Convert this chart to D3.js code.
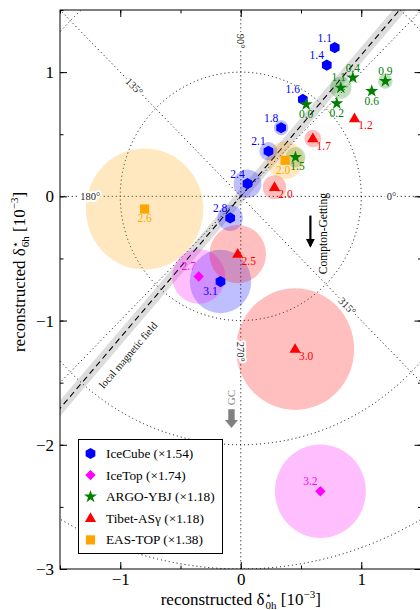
<!DOCTYPE html>
<html>
<head>
<meta charset="utf-8">
<script src="https://cdn.jsdelivr.net/npm/d3@7"></script>
<style>
  html, body { margin: 0; padding: 0; background: #fff; }
  text { font-family: "Liberation Serif", "DejaVu Serif", serif; }
</style>
</head>
<body>
<svg id="chart" width="420" height="610"></svg>
<script>
// experiments, legend scale factors
const experiments = ['IceCube', 'IceTop', 'ARGO-YBJ', 'Tibet-ASγ', 'EAS-TOP'];
const scaleFactors = ['1.54', '1.74', '1.18', '1.18', '1.38'];

// [energy label, δ0h, δ6h, error radius]  (units 1e-3)
const iceCube = [
  ['1.1', 0.78, 1.197, 0], ['1.4', 0.714, 1.056, 0], ['1.6', 0.515, 0.78, 0.02],
  ['1.8', 0.335, 0.552, 0.06], ['2.1', 0.23, 0.363, 0.075], ['2.4', 0.056, 0.102, 0.115],
  ['2.8', -0.088, -0.174, 0.105], ['3.1', -0.168, -0.686, 0.255]
];
const iceTop = [
  ['2.7', -0.349, -0.645, 0.22], ['3.2', 0.661, -2.374, 0.377]
];
const argoYbj = [
  ['0.0', 0.543, 0.74, 0], ['0.2', 0.797, 0.748, 0], ['0.4', 0.93, 0.955, 0],
  ['0.6', 1.087, 0.847, 0.03], ['0.9', 1.2, 0.927, 0.06], ['1.1', 0.83, 0.874, 0.088],
  ['1.5', 0.454, 0.315, 0.083]
];
const tibetAs = [
  ['1.2', 0.944, 0.627, 0], ['1.7', 0.598, 0.465, 0.07], ['2.0', 0.28, 0.073, 0.097],
  ['2.5', -0.025, -0.465, 0.235], ['3.0', 0.451, -1.23, 0.49]
];
const easTop = [
  ['2.0', 0.368, 0.29, 0.152], ['2.6', -0.798, -0.102, 0.487]
];

const gridRadii = [1, 2, 3];
const radialAngles = [0, 45, 90, 135, 180, 225, 270, 315];
const labelAngles = [0, 90, 135, 180, 270, 315];
const magFieldAngle = 48.7;   // degrees
const xTicks = [-1, 0, 1];
const yTicks = [1, 0, -1, -2, -3];

// styles
const colors = ['#0000ff', '#ff00ff', '#008000', '#ff0000', '#ffa500'];
const shapes = ['hexagon', 'diamond', 'star', 'triangle', 'square'];
// label offsets in px relative to marker
const labelOffsets = [[-10, -10], [-10, -10], [0, 10], [11, 7], [0, 9]];
const labelOverrides = {
  '0-3.1': [-10, 9], '2-0.4': [0, -10], '2-0.9': [0, -10], '2-1.1': [-2, -11],
  '2-1.5': [2, 9], '4-2.0': [-2, 10]
};

const svg = d3.select('#chart');
const pLeft = 60, pTop = 10, pRight = 421.5, pBottom = 569;
const x = d3.scaleLinear().domain([-1.5, 1.5]).range([pLeft, pRight]);
const y = d3.scaleLinear().domain([-3, 1.5]).range([pBottom, pTop]);

const defs = svg.append('defs');
defs.append('clipPath').attr('id', 'clip')
  .append('rect')
  .attr('x', pLeft).attr('y', pTop).attr('width', pRight - pLeft).attr('height', pBottom - pTop);
defs.append('marker')
  .attr('id', 'head').attr('viewBox', '0 0 10 10').attr('refX', 8).attr('refY', 5)
  .attr('markerWidth', 4).attr('markerHeight', 5).attr('orient', 'auto')
  .append('path').attr('d', 'M0,0L10,5L0,10Z').attr('fill', '#000');

const plot = svg.append('g').attr('clip-path', 'url(#clip)');

// magnetic field band + dashed line
const a = magFieldAngle * Math.PI / 180;
const ux = Math.cos(a), uy = Math.sin(a);
const half = 0.042;
const L = 5;
const band = [
  [-L * ux - half * uy, -L * uy + half * ux], [L * ux - half * uy, L * uy + half * ux],
  [L * ux + half * uy, L * uy - half * ux], [-L * ux + half * uy, -L * uy - half * ux]
];
plot.append('path')
  .attr('d', 'M' + band.map(p => x(p[0]) + ',' + y(p[1])).join('L') + 'Z')
  .attr('fill', '#dcdcdc');
plot.append('line')
  .attr('x1', x(-L * ux)).attr('y1', y(-L * uy))
  .attr('x2', x(L * ux)).attr('y2', y(L * uy))
  .attr('stroke', '#000').attr('stroke-width', 1.1).attr('stroke-dasharray', '6,4');

// polar grid
gridRadii.forEach(r => {
  plot.append('ellipse')
    .attr('cx', x(0)).attr('cy', y(0))
    .attr('rx', x(r) - x(0)).attr('ry', y(0) - y(r))
    .attr('fill', 'none').attr('stroke', '#000').attr('stroke-width', 1)
    .attr('stroke-dasharray', '1,3');
});
radialAngles.forEach(deg => {
  const t = deg * Math.PI / 180;
  plot.append('line')
    .attr('x1', x(0)).attr('y1', y(0))
    .attr('x2', x(6 * Math.cos(t))).attr('y2', y(6 * Math.sin(t)))
    .attr('stroke', '#000').attr('stroke-width', 1).attr('stroke-dasharray', '1,3');
});

// error circles
const sets = [iceCube, iceTop, argoYbj, tibetAs, easTop];
sets.forEach((set, i) => {
  plot.selectAll(null).data(set.filter(d => d[3] > 0)).enter()
    .append('ellipse')
    .attr('cx', d => x(d[1])).attr('cy', d => y(d[2]))
    .attr('rx', d => x(d[3]) - x(0)).attr('ry', d => y(0) - y(d[3]))
    .attr('fill', colors[i]).attr('fill-opacity', 0.25);
});

// angle labels
labelAngles.forEach(deg => {
  const t = deg * Math.PI / 180;
  let rot = -deg;
  while (rot <= -90) rot += 180;
  while (rot > 90) rot -= 180;
  const px = x(1.25 * Math.cos(t)), py = y(1.25 * Math.sin(t));
  plot.append('text')
    .attr('transform', `translate(${px},${py}) rotate(${rot})`)
    .attr('text-anchor', 'middle').attr('dominant-baseline', 'central')
    .attr('font-size', 10.5)
    .attr('stroke', '#fff').attr('stroke-width', 4).attr('paint-order', 'stroke')
    .attr('fill', '#222')
    .text(deg + '°');
});

// magnetic field text
const rotField = Math.atan2(-(y(0) - y(uy)), x(ux) - x(0)) * 180 / Math.PI;
plot.append('text')
  .attr('transform', `translate(${x(-0.935)},${y(-1.28)}) rotate(${rotField})`)
  .attr('text-anchor', 'middle').attr('dominant-baseline', 'central')
  .attr('font-size', 10.5).attr('fill', '#111')
  .text('local magnetic field');

function symbolPath(shape) {
  if (shape === 'hexagon') {
    const r = 5.6;
    return d3.range(6).map(k => {
      const t = Math.PI / 2 + k * Math.PI / 3;
      return (k ? 'L' : 'M') + (r * Math.cos(t)).toFixed(2) + ',' + (r * Math.sin(t)).toFixed(2);
    }).join('') + 'Z';
  }
  if (shape === 'diamond') return 'M0,-5.2L5.2,0L0,5.2L-5.2,0Z';
  if (shape === 'star') return d3.symbol(d3.symbolStar, 52)();
  if (shape === 'triangle') return 'M0,-6L5.6,3.7L-5.6,3.7Z';
  return 'M-4.6,-4.6H4.6V4.6H-4.6Z';
}

// markers and labels
sets.forEach((set, i) => {
  const g = plot.append('g');
  g.selectAll(null).data(set).enter()
    .append('path')
    .attr('d', symbolPath(shapes[i]))
    .attr('transform', d => `translate(${x(d[1])},${y(d[2])})`)
    .attr('fill', colors[i]);
  g.selectAll(null).data(set).enter()
    .append('text')
    .attr('x', d => x(d[1]) + (labelOverrides[i + '-' + d[0]] || labelOffsets[i])[0])
    .attr('y', d => y(d[2]) + (labelOverrides[i + '-' + d[0]] || labelOffsets[i])[1])
    .attr('text-anchor', 'middle').attr('dominant-baseline', 'central')
    .attr('font-size', 11.5).attr('fill', colors[i])
    .text(d => d[0]);
});

// Compton-Getting arrow
plot.append('line')
  .attr('x1', x(0.578)).attr('y1', y(-0.155))
  .attr('x2', x(0.578)).attr('y2', y(-0.4))
  .attr('stroke', '#000').attr('stroke-width', 2.2).attr('marker-end', 'url(#head)');
plot.append('text')
  .attr('transform', `translate(${x(0.68)},${y(-0.3)}) rotate(-90)`)
  .attr('text-anchor', 'middle').attr('dominant-baseline', 'central')
  .attr('font-size', 11.5).attr('fill', '#000')
  .text('Compton-Getting');

// GC arrow
const gx = x(-0.077), gy0 = y(-1.715), gy1 = y(-1.865);
plot.append('path')
  .attr('d', `M${gx - 3.2},${gy0}H${gx + 3.2}V${gy1 - 8}H${gx + 6.5}L${gx},${gy1}L${gx - 6.5},${gy1 - 8}H${gx - 3.2}Z`)
  .attr('fill', '#808080');
plot.append('text')
  .attr('transform', `translate(${gx},${y(-1.62)}) rotate(-90)`)
  .attr('text-anchor', 'middle').attr('dominant-baseline', 'central')
  .attr('font-size', 11).attr('fill', '#808080')
  .text('GC');

// axes (ticks inward on all sides)
function styleAxis(g) {
  g.select('.domain').remove();
  g.selectAll('text').attr('font-size', 17).attr('fill', '#000')
    .style('font-family', '"Liberation Serif", "DejaVu Serif", serif');
  g.selectAll('line').attr('stroke', '#000');
}
const xMinor = d3.range(-1.5, 1.51, 0.5);
const yMinor = d3.range(-3, 1.51, 0.5);
const fmt = d3.format('d');

svg.append('g').attr('transform', `translate(0,${pBottom})`)
  .call(d3.axisBottom(x).tickValues(xTicks).tickSize(-7).tickPadding(4).tickFormat(fmt)).call(styleAxis);
svg.append('g').attr('transform', `translate(0,${pBottom})`)
  .call(d3.axisBottom(x).tickValues(xMinor).tickSize(-3.5).tickFormat('')).call(styleAxis);
svg.append('g').attr('transform', `translate(0,${pTop})`)
  .call(d3.axisTop(x).tickValues(xTicks).tickSize(-7).tickFormat('')).call(styleAxis);
svg.append('g').attr('transform', `translate(0,${pTop})`)
  .call(d3.axisTop(x).tickValues(xMinor).tickSize(-3.5).tickFormat('')).call(styleAxis);
svg.append('g').attr('transform', `translate(${pLeft},0)`)
  .call(d3.axisLeft(y).tickValues(yTicks).tickSize(-7).tickPadding(6).tickFormat(fmt)).call(styleAxis);
svg.append('g').attr('transform', `translate(${pLeft},0)`)
  .call(d3.axisLeft(y).tickValues(yMinor).tickSize(-3.5).tickFormat('')).call(styleAxis);
svg.append('g').attr('transform', `translate(${pRight},0)`)
  .call(d3.axisRight(y).tickValues(yTicks).tickSize(-7).tickFormat('')).call(styleAxis);
svg.append('g').attr('transform', `translate(${pRight},0)`)
  .call(d3.axisRight(y).tickValues(yMinor).tickSize(-3.5).tickFormat('')).call(styleAxis);

svg.append('rect')
  .attr('x', pLeft).attr('y', pTop).attr('width', pRight - pLeft).attr('height', pBottom - pTop)
  .attr('fill', 'none').attr('stroke', '#000').attr('stroke-width', 1);

// axis titles
function axisTitle(t, sub) {
  t.append('tspan').text('reconstructed δ');
  t.append('tspan').attr('font-size', 11).attr('dy', -6).text('⋆');
  t.append('tspan').attr('font-size', 11).attr('dx', -6).attr('dy', 10).text(sub);
  t.append('tspan').attr('dy', -4).text(' [10');
  t.append('tspan').attr('font-size', 11).attr('dy', -7).text('−3');
  t.append('tspan').attr('dy', 7).text(']');
}
svg.append('text')
  .attr('x', (pLeft + pRight) / 2).attr('y', 605)
  .attr('text-anchor', 'middle').attr('font-size', 17).attr('fill', '#000')
  .call(axisTitle, '0h');
svg.append('text')
  .attr('transform', `translate(25,272) rotate(-90)`)
  .attr('text-anchor', 'middle').attr('font-size', 17).attr('fill', '#000')
  .call(axisTitle, '6h');

// legend
const lg = svg.append('g').attr('transform', 'translate(78.5,439.5)');
lg.append('rect').attr('width', 144).attr('height', 114)
  .attr('fill', '#fff').attr('stroke', '#000').attr('stroke-width', 1);
experiments.forEach((name, i) => {
  const row = lg.append('g').attr('transform', `translate(0,${14 + i * 21.6})`);
  row.append('path').attr('d', symbolPath(shapes[i]))
    .attr('transform', 'translate(12,0)').attr('fill', colors[i]);
  row.append('text').attr('x', 27.5).attr('y', 0)
    .attr('dominant-baseline', 'central').attr('font-size', 13.3).attr('fill', '#000')
    .text(`${name} (×${scaleFactors[i]})`);
});
</script>
</body>
</html>
